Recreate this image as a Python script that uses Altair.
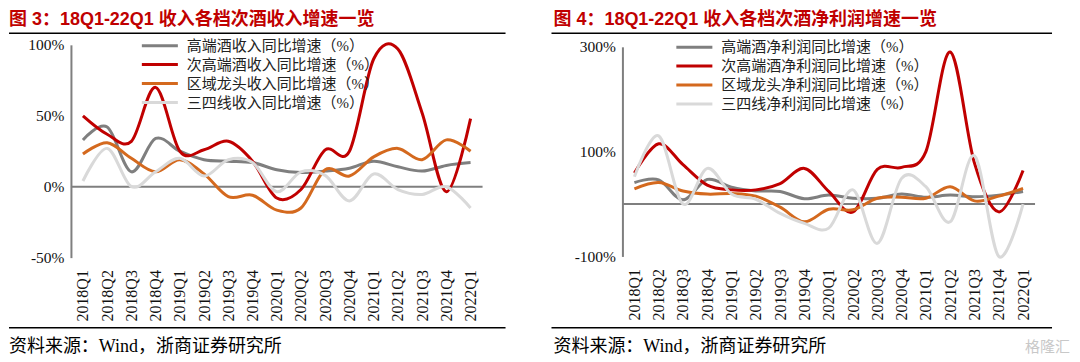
import altair as alt
import pandas as pd

quarters = ["2018Q1", "2018Q2", "2018Q3", "2018Q4", "2019Q1", "2019Q2", "2019Q3", "2019Q4",
            "2020Q1", "2020Q2", "2020Q3", "2020Q4", "2021Q1", "2021Q2", "2021Q3", "2021Q4", "2022Q1"]

# Left panel: revenue growth (%)
left_names = ["高端酒收入同比增速（%）", "次高端酒收入同比增速（%）",
              "区域龙头收入同比增速（%）", "三四线收入同比增速（%）"]
high_rev = [33, 42, 10.5, 34, 25, 19, 18, 17, 12, 10, 11, 13, 18, 14, 11, 15, 17]
sub_rev = [50, 37, 32, 70, 25, 26, 32, 18, -8, -2, 26, 25, 90, 97, 52, -3.5, 48]
reg_rev = [23, 31, 20, 10.5, 19, 9, -7, -6, -16.5, -15, 12, 7.5, 21, 27, 19, 33, 25]
low_rev = [4, 27, 0, 10.5, 20, 7.5, 19, 17, -3.5, 10.5, 8, -10, 9, -2, -5.5, 0, -15]

# Right panel: net profit growth (%)
right_names = ["高端酒净利润同比增速（%）", "次高端酒净利润同比增速（%）",
               "区域龙头净利润同比增速（%）", "三四线净利润同比增速（%）"]
high_np = [41, 46, 8, 47, 32, 25, 24, 10, 17, 11, 11, 19, 13, 17, 14, 17, 24]
sub_np = [59, 115, 75, 36, 27, 27, 39, 68, 24, -15, 66, 70, 100, 290, 78, -15, 64]
reg_np = [29, 41, 25, 19, 20, 15, -6, -34, -10, -11, 11, 13, 11, 33, 6, 15, 30]
low_np = [52, 130, 0, 68, 19, 9, -18, -37, -46, 27, -75, 49, 33, -34, 92, -100, 0]

left_ticks = [-50, 0, 50, 100]
right_ticks = [-100, 100, 300]

left_title = "图 3：18Q1-22Q1 收入各档次酒收入增速一览"
right_title = "图 4：18Q1-22Q1 收入各档次酒净利润增速一览"
source_text = "资料来源：Wind，浙商证券研究所"
watermark = "格隆汇"

colors = ["#7F7F7F", "#C00000", "#D4691E", "#D9D9D9"]

SERIF = "Liberation Serif, Noto Sans CJK SC"
SANS = "Liberation Sans, Noto Sans CJK SC"
W, H = 532, 346


def long_df(names, series):
    rows = []
    for n, vals in zip(names, series):
        for q, v in zip(quarters, vals):
            rows.append({"q": q, "series": n, "v": v})
    return pd.DataFrame(rows)


def panel(df, names, ydomain, ticks, yrange, xrange, yaxis_x, zero_x2,
          leg_x, leg_y, title, title_x, rule_x, extra_text=None):
    xaxis_y = yrange[0]
    lines = alt.Chart(df).mark_line(interpolate="cardinal", strokeWidth=3).encode(
        x=alt.X("q:N", sort=quarters,
                scale=alt.Scale(type="point", domain=quarters, range=xrange, padding=0),
                axis=alt.Axis(title=None, orient="bottom", offset=xaxis_y - H, labelAngle=270,
                              labelAlign="right", labelBaseline="middle", labelPadding=12,
                              domain=False, ticks=False, labelFont="Liberation Serif",
                              labelFontSize=16, labelColor="#111")),
        y=alt.Y("v:Q",
                scale=alt.Scale(domain=ydomain, range=yrange, nice=False, zero=False),
                axis=alt.Axis(title=None, orient="left", offset=-yaxis_x, values=ticks,
                              labelExpr="datum.value + '%'", grid=False, ticks=False,
                              domainColor="#7F7F7F", domainWidth=2, labelPadding=7,
                              labelFont="Liberation Serif", labelFontSize=15.5,
                              labelColor="#111")),
        color=alt.Color("series:N", sort=names,
                        scale=alt.Scale(domain=names, range=colors),
                        legend=alt.Legend(title=None, orient="none", legendX=leg_x,
                                          legendY=leg_y, symbolType="stroke",
                                          symbolSize=1300, symbolStrokeWidth=3,
                                          labelFont=SERIF, labelFontSize=15,
                                          labelColor="#222", labelOffset=7,
                                          labelLimit=500, clipHeight=15,
                                          rowPadding=3, padding=0)),
    )
    zero = alt.Chart(pd.DataFrame({"z": [0]})).mark_rule(
        color="#7F7F7F", strokeWidth=2).encode(
        y=alt.datum(0), x=alt.value(yaxis_x), x2=alt.value(zero_x2))
    ttl = alt.Chart(pd.DataFrame({"t": [title]})).mark_text(
        align="left", baseline="alphabetic", font=SANS, fontSize=18, fontWeight="bold",
        color="#C00000").encode(text="t:N", x=alt.value(title_x), y=alt.value(17))
    top_rule = alt.Chart(pd.DataFrame({"a": [0]})).mark_rule(
        color="#000", strokeWidth=1.5).encode(
        x=alt.value(rule_x[0]), x2=alt.value(rule_x[1]), y=alt.value(25))
    bot_rule = alt.Chart(pd.DataFrame({"a": [0]})).mark_rule(
        color="#000", strokeWidth=1.5).encode(
        x=alt.value(rule_x[0]), x2=alt.value(rule_x[1]), y=alt.value(320))
    src = alt.Chart(pd.DataFrame({"t": [source_text]})).mark_text(
        align="left", baseline="middle", font=SERIF, fontSize=18,
        color="#000").encode(text="t:N", x=alt.value(title_x), y=alt.value(339))
    layers = [zero, lines, ttl, top_rule, bot_rule, src]
    if extra_text:
        wm = alt.Chart(pd.DataFrame({"t": [extra_text]})).mark_text(
            align="right", baseline="middle", font=SANS, fontSize=15,
            color="#C8C8C8").encode(text="t:N", x=alt.value(530), y=alt.value(339))
        layers.append(wm)
    return alt.layer(*layers).properties(width=W, height=H)


left = panel(long_df(left_names, [high_rev, sub_rev, reg_rev, low_rev]), left_names,
             [-50, 100], left_ticks, [249.7, 36.7], [74, 462], 62, 474,
             131, 30, left_title, 0, [0, 497])
right = panel(long_df(right_names, [high_np, sub_np, reg_np, low_np]), right_names,
              [-100, 300], right_ticks, [248.5, 38.7], [94, 483], 82, 495,
              134, 31.5, right_title, 13, [11, 512], extra_text=watermark)

chart = alt.hconcat(left, right, spacing=0).resolve_scale(
    color="independent", x="independent", y="independent"
).properties(padding=0).configure_view(strokeOpacity=0)

chart.save("out.html", embed_options={"renderer": "svg", "actions": False})
